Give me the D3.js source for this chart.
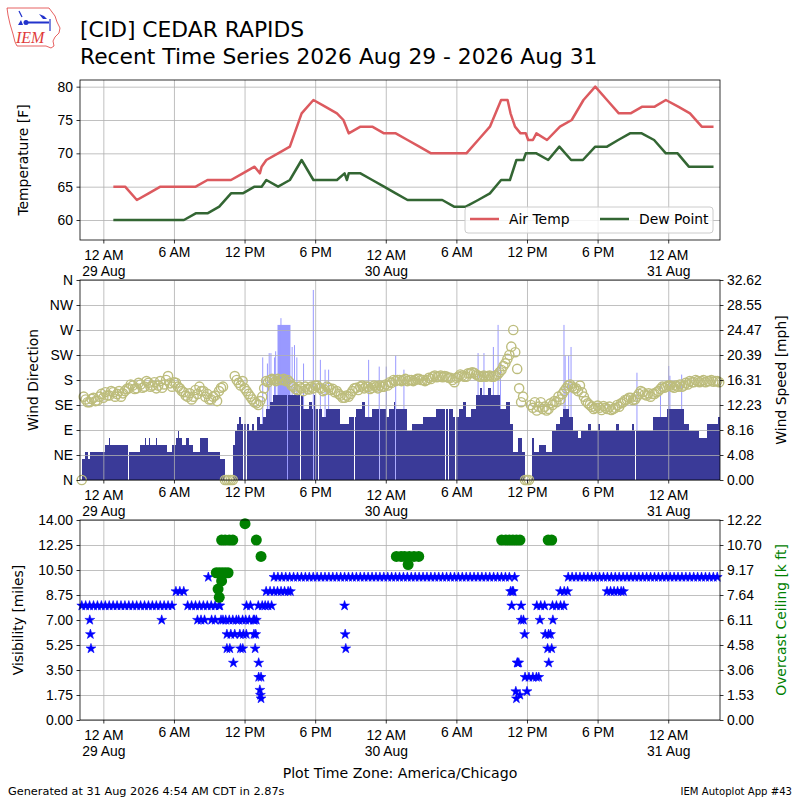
<!DOCTYPE html>
<html>
<head>
<meta charset="utf-8">
<script src="https://cdn.jsdelivr.net/npm/d3@7"></script>
<style>
  body { margin: 0; background: #fff; }
  svg { font-family: "DejaVu Sans", sans-serif; }
  .axis text { font-size: 13.9px; fill: #000; }
  .axis path, .axis line { stroke: #000; stroke-width: 0.8; }
  .grid line { stroke: #b0b0b0; stroke-width: 0.8; }
  .grid path { display: none; }
</style>
</head>
<body>
<svg id="chart" width="800" height="800"></svg>
<script>
// hours are counted from 29 Aug 2026 00:00 local (America/Chicago)
const airTemp = [
  [0.85, 65], [1.85, 65], [2.85, 63], [3.85, 64], [4.85, 65], [5.85, 65], [6.85, 65],
  [7.85, 65], [8.85, 66], [9.85, 66], [10.85, 66], [11.85, 67], [12.85, 68], [13.3, 67],
  [13.45, 68], [13.85, 69], [14.85, 70], [15.85, 71], [16.85, 76], [17.85, 78], [18.85, 77],
  [19.85, 76], [20.4, 75], [20.85, 73], [21.85, 74], [22.85, 74], [23.85, 73], [24.85, 73],
  [25.85, 72], [26.85, 71], [27.85, 70], [28.85, 70], [29.85, 70], [30.85, 70], [31.85, 72],
  [32.85, 74], [33.8, 78], [34.35, 78], [34.6, 76], [34.98, 74], [35.45, 73], [35.9, 73],
  [36.1, 72], [36.5, 72], [36.8, 73], [37.7, 72], [38.8, 74], [39.8, 75], [40.8, 78],
  [41.8, 80], [42.8, 78], [43.8, 76], [44.8, 76], [45.8, 77], [46.85, 77], [47.8, 78],
  [48.85, 77], [49.85, 76], [50.85, 74], [51.85, 74]
]
const dewPoint = [
  [0.85, 60], [1.85, 60], [2.85, 60], [3.85, 60], [4.85, 60], [5.85, 60], [6.85, 60],
  [7.85, 61], [8.85, 61], [9.85, 62], [10.85, 64], [11.85, 64], [12.85, 65], [13.45, 65],
  [13.85, 66], [14.85, 65], [15.85, 66], [16.85, 69], [17.85, 66], [18.85, 66], [19.85, 66],
  [20.5, 67], [20.7, 66], [20.85, 67], [21.85, 67], [22.85, 66], [23.85, 65], [24.85, 64],
  [25.85, 63], [26.85, 63], [27.85, 63], [28.8, 63], [29.8, 62], [30.8, 62], [31.85, 63],
  [32.85, 64], [33.8, 66], [34.55, 66], [35.1, 69], [35.7, 69], [35.9, 70], [36.8, 70],
  [37.8, 69], [38.75, 71], [39.75, 69], [40.75, 69], [41.8, 71], [42.8, 71], [43.75, 72],
  [44.75, 73], [45.75, 73], [46.8, 72], [47.8, 70], [48.8, 70], [49.75, 68], [50.8, 68],
  [51.85, 68]
]

// sustained wind [hour the value starts, knots]
const windSteps = [
  [-1.84, 3], [-1.55, 4], [-1.3, 3], [-1.1, 4], [0.14, 5], [0.45, 6], [0.6, 5], [2.1, 4],
  [3.12, 5], [3.5, 6], [3.6, 5], [3.9, 6], [4.0, 5], [4.5, 6], [4.6, 5], [5.39, 4], [5.81, 5],
  [6.2, 6], [6.35, 7], [6.45, 6], [6.7, 5], [7.0, 6], [7.3, 5], [7.65, 4], [8.2, 6], [8.92, 4],
  [9.91, 3], [10.34, 0], [11.05, 5], [11.2, 7], [11.33, 8], [11.5, 9], [11.7, 8], [12.4, 7],
  [12.6, 8], [12.8, 7], [13.03, 9], [13.3, 8], [13.54, 9], [13.8, 10], [14.16, 11], [14.45, 12],
  [17.0, 10], [17.5, 11], [17.7, 10], [17.9, 12], [18.0, 10], [18.6, 9], [18.9, 10], [20.1, 8],
  [20.9, 9], [21.5, 10], [22.0, 11], [22.2, 9], [22.8, 10], [24.0, 9], [24.3, 10], [24.7, 11],
  [24.9, 10], [25.8, 7], [26.2, 8], [27.2, 9], [28.3, 10], [29.7, 9], [30.2, 10], [30.6, 11],
  [30.8, 9], [31.2, 10], [31.7, 12], [32.0, 13], [32.2, 12], [32.7, 13], [32.9, 12], [33.7, 10],
  [34.2, 11], [34.55, 8], [34.8, 4], [35.26, 6], [35.55, 4], [35.83, 0], [36.4, 6], [36.6, 4],
  [37.0, 5], [37.6, 4], [38.1, 7], [38.5, 8], [38.8, 9], [39.1, 10], [39.6, 9], [39.9, 7],
  [40.3, 6], [40.6, 7], [41.2, 8], [41.4, 7], [42.0, 8], [42.2, 7], [43.6, 8], [43.8, 7],
  [44.9, 8], [45.1, 7], [46.7, 9], [47.9, 10], [49.3, 8], [49.8, 7], [50.6, 6], [51.3, 8],
  [52.2, 9]
]
// minutes with no sustained reading
const windDropouts = [2.13, 11.9, 12.15, 15.6, 16.7, 17.8, 18.2, 20.9, 21.3, 23.4, 24.8,
  29.0, 29.3, 29.9, 30.6, 33.7, 45.2, 47.9]
// gusts [from hour, to hour, mph]
const gusts = [
  [13.5, 13.55, 20], [13.9, 13.95, 19], [14.05, 14.1, 20.7], [14.2, 14.25, 20.7],
  [14.5, 14.55, 20], [14.6, 14.65, 21], [14.8, 15.9, 25.3], [15.05, 15.1, 26.4],
  [16.0, 16.05, 21.7], [16.2, 16.25, 22], [16.4, 16.45, 20], [16.97, 17.02, 19],
  [17.8, 17.85, 31], [18.4, 18.45, 19.6], [18.8, 18.85, 18], [19.1, 19.15, 18],
  [22.5, 22.55, 19.6], [23.4, 23.45, 18.5], [24.0, 24.05, 18.5], [24.8, 24.85, 20.3],
  [25.5, 25.55, 18], [31.8, 31.85, 20.7], [32.3, 32.35, 20.7], [33.1, 33.15, 21.7],
  [33.5, 33.55, 25.3], [33.7, 33.75, 19], [39.1, 39.15, 25.3], [39.2, 39.25, 20.3],
  [39.5, 39.55, 20.3], [39.7, 39.75, 21.7], [45.3, 45.35, 17.5], [47.3, 47.35, 16],
  [48.0, 48.05, 18.6], [48.1, 48.15, 17], [49.1, 49.15, 17.2]
]

// wind direction, 10 minute samples starting 28 Aug 22:10 (0 = calm)
const dirStart = -11 / 6
const dirMinutes = 10
const windDir = [
  0, 150, 145, 140, 140, 146, 148, 142, 143, 150, 155, 148, 158, 152, 152, 160, 158, 150, 155, 160,
  150, 156, 160, 164, 165, 172, 170, 164, 165, 175, 172, 166, 168, 178, 175, 168, 170, 176, 165, 170,
  178, 166, 172, 180, 187, 174, 168, 176, 175, 168, 165, 160, 158, 152, 150, 156, 145, 150, 162, 155,
  168, 160, 160, 150, 155, 145, 145, 150, 152, 142, 160, 166, 168, 0, 0, 0, 0, 0, 187, 180,
  175, 170, 178, 165, 160, 155, 150, 145, 140, 138, 135, 142, 150, 165, 178, 176, 180, 182, 180, 178,
  182, 180, 180, 182, 178, 180, 176, 170, 168, 164, 162, 168, 165, 160, 168, 164, 163, 168, 165, 170,
  170, 166, 165, 160, 162, 168, 166, 162, 164, 158, 160, 155, 152, 148, 148, 152, 150, 155, 160, 165,
  166, 162, 168, 170, 165, 168, 168, 164, 166, 170, 168, 165, 170, 168, 168, 172, 170, 176, 175, 180,
  178, 180, 180, 178, 180, 182, 178, 180, 180, 178, 180, 182, 182, 180, 180, 178, 180, 184, 182, 186,
  188, 185, 186, 188, 185, 187, 186, 184, 184, 180, 176, 184, 186, 190, 188, 186, 186, 192, 192, 194,
  193, 190, 188, 186, 186, 188, 186, 187, 188, 186, 186, 188, 190, 194, 198, 205, 210, 218, 225, 240,
  270, 230, 200, 165, 140, 150, 0, 0, 0, 135, 130, 140, 125, 132, 140, 128, 132, 125, 128, 138,
  135, 142, 140, 150, 145, 155, 160, 165, 170, 172, 168, 165, 165, 160, 170, 158, 150, 142, 138, 135,
  132, 128, 130, 134, 130, 126, 133, 130, 128, 132, 126, 128, 130, 135, 132, 138, 140, 144, 145, 148,
  148, 144, 145, 150, 155, 160, 158, 154, 152, 156, 150, 155, 155, 158, 160, 164, 168, 166, 168, 170,
  170, 168, 166, 170, 168, 172, 168, 170, 175, 172, 178, 176, 176, 180, 178, 176, 178, 180, 176, 178,
  178, 180, 177, 178, 178, 176
]

// visibility, 20 minute samples starting 28 Aug 22:10
const visStart = -11 / 6
const visMinutes = 20
const visBand = [
  8, 8, 8, 8, 8, 8, 8, 8, 8, 8,
  8, 8, 8, 8, 8, 8, 8, 8, 8, 8,
  8, 8, 8, 8, 9, 9, 9, 8, 8, 8,
  8, 8, 8, 8, 8, 8, 7, 6, 6, 6,
  7, 7, 8, 8, 7, 8, 8, 9, 9, 10,
  10, 10, 10, 10, 10, 10, 10, 10, 10, 10,
  10, 10, 10, 10, 10, 10, 10, 10, 10, 10,
  10, 10, 10, 10, 10, 10, 10, 10, 10, 10,
  10, 10, 10, 10, 10, 10, 10, 10, 10, 10,
  10, 10, 10, 10, 10, 10, 10, 10, 10, 10,
  10, 10, 10, 10, 10, 10, 10, 10, 10, 10,
  9, 4, 8, 3, 3, 3, 8, 8, 8, 6,
  8, 8, 9, 9, 10, 10, 10, 10, 10, 10,
  10, 10, 10, 10, 10, 10, 10, 10, 10, 10,
  10, 10, 10, 10, 10, 10, 10, 10, 10, 10,
  10, 10, 10, 10, 10, 10, 10, 10, 10, 10,
  10, 10, 10
]
// other visibility reports [hour, miles]
const visExtra = [
  [-1.15, 7], [-1.1, 6], [-1.05, 5], [4.96, 7], [8.0, 7], [8.3, 7], [8.6, 7], [8.92, 10],
  [9.2, 7], [9.5, 7], [9.9, 8], [10.0, 7], [10.4, 7], [10.7, 7], [11.0, 7], [11.3, 7],
  [11.6, 6], [11.9, 6], [12.15, 6], [10.5, 5], [10.75, 5], [11.65, 5], [11.85, 5], [11.05, 4],
  [12.1, 7], [12.4, 7], [12.75, 7], [13.0, 7], [12.8, 6], [12.95, 6], [12.9, 5], [13.2, 4],
  [13.2, 3], [13.4, 3], [13.3, 2.1], [13.35, 1.75], [13.4, 1.5], [13.75, 8], [14.0, 8],
  [14.3, 8], [14.5, 9], [14.8, 9], [15.1, 9], [15.4, 9], [15.7, 9], [15.9, 9],
  [20.5, 8], [20.55, 6], [20.6, 5], [34.6, 9], [34.75, 9], [34.7, 8], [34.95, 10],
  [35.05, 2], [35.1, 1.5], [35.2, 4], [35.3, 4], [35.4, 1.75], [35.5, 7], [35.7, 7],
  [35.8, 6], [36.0, 2], [36.8, 3], [37.0, 3], [37.1, 7], [37.55, 6], [37.75, 5], [37.85, 4],
  [38.0, 6], [38.1, 5], [38.2, 7], [38.85, 8], [39.15, 8], [39.45, 9], [42.8, 9], [43.1, 9],
  [43.4, 9], [43.7, 9], [44.0, 9], [44.2, 9]
]
// overcast ceiling [hour, thousand feet]
const ceiling = [
  [9.6, 9], [9.85, 9], [10.1, 9], [10.35, 9], [10.6, 9], [9.75, 8], [9.85, 7.5], [10.05, 8.5],
  [10.05, 11], [10.35, 11], [10.7, 11], [11.0, 11], [12.04, 12], [13.0, 11], [13.4, 10],
  [24.9, 10], [25.3, 10], [25.6, 10], [26.0, 10], [26.4, 10], [26.8, 10], [25.9, 9.5],
  [33.85, 11], [34.2, 11], [34.5, 11], [34.8, 11], [35.1, 11], [35.4, 11], [37.8, 11], [38.1, 11]
]

const tempTicks = [60, 65, 70, 75, 80]
const dirLabels = ['N', 'NE', 'E', 'SE', 'S', 'SW', 'W', 'NW', 'N']
const speedMax = 32.6235
const visMax = 14
const ceilMax = 12.224
const KT = 1.15078

const tStart = -1.983
const tEnd = 52.4
const base = new Date(2026, 7, 29, 0, 0)
const toDate = h => new Date(base.getTime() + h * 36e5)

const svg = d3.select('#chart')
const left = 80
const right = 720
const panels = [
  { top: 80, height: 160 },
  { top: 280, height: 200 },
  { top: 520, height: 200 }
]

const x = d3.scaleTime().domain([toDate(tStart), toDate(tEnd)]).range([left, right])

function drawXAxis(p) {
  const bottom = p.top + p.height
  const g = svg.append('g')
    .attr('class', 'axis')
    .attr('transform', 'translate(0,' + bottom + ')')
    .call(d3.axisBottom(x)
      .ticks(d3.timeHour.every(6))
      .tickSizeInner(3.5).tickSizeOuter(0).tickPadding(3.5)
      .tickFormat(d3.timeFormat('%-I %p')))
  g.select('.domain').remove()
  g.selectAll('.tick text').each(function(d) {
    if (d.getHours() !== 0) return
    const t = d3.select(this)
    const first = t.text()
    t.text(null).attr('y', 10)
    t.append('tspan').attr('x', 0).text(first)
    t.append('tspan').attr('x', 0).attr('dy', '1.15em').text(d3.timeFormat('%d %b')(d))
  })
}

function drawGrid(p, y, values) {
  const g = svg.append('g').attr('class', 'grid')
  g.append('g')
    .attr('transform', 'translate(0,' + (p.top + p.height) + ')')
    .call(d3.axisBottom(x).ticks(d3.timeHour.every(6)).tickSize(-p.height).tickFormat(''))
  g.append('g')
    .attr('transform', 'translate(' + left + ',0)')
    .call(d3.axisLeft(y).tickValues(values).tickSize(-(right - left)).tickFormat(''))
  g.selectAll('.domain').remove()
}

function drawFrame(p) {
  svg.append('rect')
    .attr('x', left).attr('y', p.top)
    .attr('width', right - left).attr('height', p.height)
    .attr('fill', 'none').attr('stroke', '#000').attr('stroke-width', 0.8)
}

function leftAxis(y, values, fmt) {
  svg.append('g')
    .attr('class', 'axis')
    .attr('transform', 'translate(' + left + ',0)')
    .call(d3.axisLeft(y).tickValues(values).tickFormat(fmt)
      .tickSizeInner(3.5).tickSizeOuter(0).tickPadding(3.5))
    .select('.domain').remove()
}

function rightAxis(y, values, fmt) {
  svg.append('g')
    .attr('class', 'axis')
    .attr('transform', 'translate(' + right + ',0)')
    .call(d3.axisRight(y).tickValues(values).tickFormat(fmt)
      .tickSizeInner(3.5).tickSizeOuter(0).tickPadding(3.5))
    .select('.domain').remove()
}

function axisTitle(cx, cy, text, color) {
  svg.append('text')
    .attr('transform', 'translate(' + cx + ',' + cy + ') rotate(-90)')
    .attr('text-anchor', 'middle')
    .attr('dy', '0.35em')
    .attr('font-size', '13.9px')
    .attr('fill', color || '#000')
    .text(text)
}

// ---- panel 1: temperatures
const p1 = panels[0]
const yT = d3.scaleLinear().domain([57, 81]).range([p1.top + p1.height, p1.top])
drawGrid(p1, yT, tempTicks)
const line = d3.line().x(d => x(toDate(d[0]))).y(d => yT(d[1]))
svg.append('path').datum(airTemp).attr('d', line)
  .attr('fill', 'none').attr('stroke', '#dc5a5f').attr('stroke-width', 2.5)
  .attr('stroke-linejoin', 'round')
svg.append('path').datum(dewPoint).attr('d', line)
  .attr('fill', 'none').attr('stroke', '#336633').attr('stroke-width', 2.5)
  .attr('stroke-linejoin', 'round')
leftAxis(yT, tempTicks, d3.format('d'))
drawXAxis(p1)
drawFrame(p1)
axisTitle(23, p1.top + p1.height / 2, 'Temperature [F]')

const legend = svg.append('g').attr('transform', 'translate(465,207)')
legend.append('rect').attr('width', 248).attr('height', 26).attr('rx', 3)
  .attr('fill', '#fff').attr('fill-opacity', 0.8).attr('stroke', '#cccccc')
const legendItems = [
  { name: 'Air Temp', color: '#dc5a5f', x: 5 },
  { name: 'Dew Point', color: '#336633', x: 135 }
]
legendItems.forEach(it => {
  legend.append('line').attr('x1', it.x).attr('x2', it.x + 29).attr('y1', 12).attr('y2', 12)
    .attr('stroke', it.color).attr('stroke-width', 2.5)
  legend.append('text').attr('x', it.x + 39).attr('y', 12).attr('dy', '0.35em')
    .attr('font-size', '13.9px').text(it.name)
})

// ---- panel 2: wind
const p2 = panels[1]
const yDir = d3.scaleLinear().domain([0, 360]).range([p2.top + p2.height, p2.top])
const ySpd = d3.scaleLinear().domain([0, speedMax]).range([p2.top + p2.height, p2.top])

const dropW = 0.085
const windBars = []
windSteps.forEach(([h0, kt], i) => {
  const h1 = i < windSteps.length - 1 ? windSteps[i + 1][0] : tEnd
  if (kt === 0) return
  let a = h0
  windDropouts.filter(d => d > h0 && d < h1).forEach(d => {
    windBars.push({ h0: a, h1: d, mph: kt * KT })
    a = d + dropW
  })
  windBars.push({ h0: a, h1: h1, mph: kt * KT })
})

svg.append('g').selectAll('rect').data(gusts).join('rect')
  .attr('x', d => x(toDate(d[0])))
  .attr('width', d => Math.max(1, x(toDate(d[1])) - x(toDate(d[0]))))
  .attr('y', d => ySpd(d[2]))
  .attr('height', d => ySpd(0) - ySpd(d[2]))
  .attr('fill', '#9999ff')

svg.append('g').selectAll('rect').data(windBars).join('rect')
  .attr('x', d => x(toDate(d.h0)))
  .attr('width', d => x(toDate(d.h1)) - x(toDate(d.h0)))
  .attr('y', d => ySpd(d.mph))
  .attr('height', d => ySpd(0) - ySpd(d.mph))
  .attr('fill', '#3a3a98')
  .attr('shape-rendering', 'crispEdges')

const dirTicks = d3.range(0, 361, 45)
drawGrid(p2, yDir, dirTicks)

svg.append('g').selectAll('circle').data(windDir).join('circle')
  .attr('cx', (d, i) => x(toDate(dirStart + (i * dirMinutes) / 60)))
  .attr('cy', d => yDir(d))
  .attr('r', 4.6)
  .attr('fill', 'none')
  .attr('stroke', '#bdbd7d')
  .attr('stroke-width', 1.4)

leftAxis(yDir, dirTicks, (d, i) => dirLabels[i])
rightAxis(ySpd, d3.range(9).map(i => (i * speedMax) / 8), d3.format('.2f'))
drawXAxis(p2)
drawFrame(p2)
axisTitle(33, p2.top + p2.height / 2, 'Wind Direction')
axisTitle(781, p2.top + p2.height / 2, 'Wind Speed [mph]')

// ---- panel 3: visibility and ceiling
const p3 = panels[2]
const yVis = d3.scaleLinear().domain([0, visMax]).range([p3.top + p3.height, p3.top])
const yCeil = d3.scaleLinear().domain([0, ceilMax]).range([p3.top + p3.height, p3.top])
const visTicks = d3.range(9).map(i => i * 1.75)
drawGrid(p3, yVis, visTicks)

const star = d3.symbol().type(d3.symbolStar).size(30)
const visPoints = visBand.map((v, i) => [visStart + (i * visMinutes) / 60, v]).concat(visExtra)
svg.append('g').selectAll('path').data(visPoints).join('path')
  .attr('d', star)
  .attr('transform', d => 'translate(' + x(toDate(d[0])) + ',' + yVis(d[1]) + ')')
  .attr('fill', '#0000ff')
  .attr('stroke', '#0000ff')
  .attr('stroke-width', 0.6)

svg.append('g').selectAll('circle').data(ceiling).join('circle')
  .attr('cx', d => x(toDate(d[0])))
  .attr('cy', d => yCeil(d[1]))
  .attr('r', 5.5)
  .attr('fill', '#008000')

leftAxis(yVis, visTicks, d3.format('.2f'))
rightAxis(yCeil, d3.range(9).map(i => (i * ceilMax) / 8), d3.format('.2f'))
drawXAxis(p3)
drawFrame(p3)
axisTitle(18, p3.top + p3.height / 2, 'Visibility [miles]')
axisTitle(781, p3.top + p3.height / 2, 'Overcast Ceiling [k ft]', '#008000')

// ---- titles and footer
svg.append('text').attr('x', 80).attr('y', 37).attr('font-size', '21.8px').text('[CID] CEDAR RAPIDS')
svg.append('text').attr('x', 80).attr('y', 64).attr('font-size', '21.8px')
  .text('Recent Time Series 2026 Aug 29 - 2026 Aug 31')
svg.append('text').attr('x', 400).attr('y', 778).attr('text-anchor', 'middle')
  .attr('font-size', '14.1px').text('Plot Time Zone: America/Chicago')
svg.append('text').attr('x', 8).attr('y', 795).attr('font-size', '11.3px')
  .text('Generated at 31 Aug 2026 4:54 AM CDT in 2.87s')
svg.append('text').attr('x', 792).attr('y', 795).attr('text-anchor', 'end').attr('font-size', '10.1px')
  .text('IEM Autoplot App #43')

// ---- logo
const logo = svg.append('g')
logo.append('path')
  .attr('d', 'M7,8 L49,8 L52,12 L55,16 L57,22 L60,28 L59,33 L55,37 L53,41 L54,46 L51,48 L46,46 L17,46 L15,42 L13,34 L10,24 L8,15 Z')
  .attr('fill', 'none').attr('stroke', '#e03a3a').attr('stroke-width', 0.8)
logo.append('line').attr('x1', 19).attr('y1', 11).attr('x2', 22).attr('y2', 17)
  .attr('stroke', '#2233cc').attr('stroke-width', 1.2)
logo.append('path').attr('d', 'M18,25 L21,20 L23,25 Z').attr('fill', '#2233cc')
logo.append('rect').attr('x', 25).attr('y', 21.5).attr('width', 24).attr('height', 2).attr('fill', '#2233cc')
logo.append('circle').attr('cx', 26).attr('cy', 22.5).attr('r', 2.5).attr('fill', '#2233cc')
logo.append('path').attr('d', 'M39,14 L44,16 L47,19 L43,19 Z').attr('fill', '#2233cc')
logo.append('line').attr('x1', 50).attr('y1', 19).attr('x2', 50).attr('y2', 31)
  .attr('stroke', '#2233cc').attr('stroke-width', 1.2)
logo.append('text').attr('x', 16).attr('y', 43)
  .attr('font-family', '"Liberation Serif", serif').attr('font-style', 'italic')
  .attr('font-size', '16px').attr('fill', '#e03a3a').text('IEM')
</script>
</body>
</html>
